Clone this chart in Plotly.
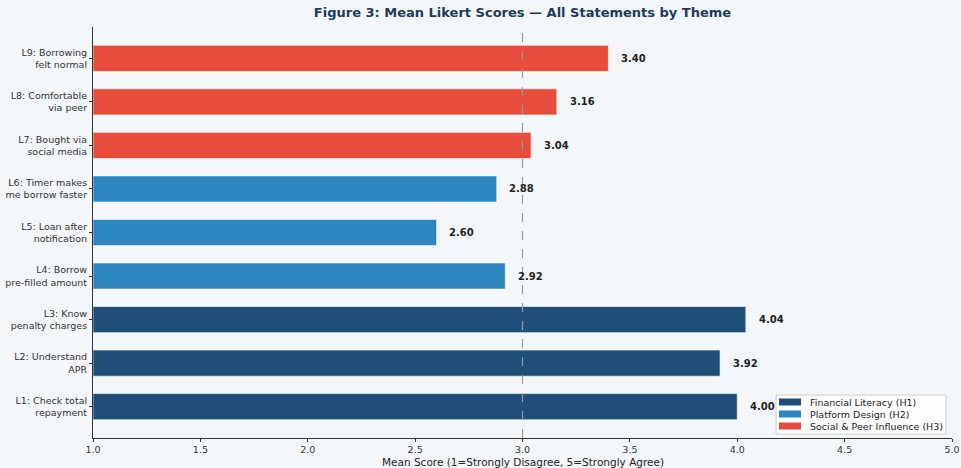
import plotly.graph_objects as go

labels = ["L1: Check total<br>repayment", "L2: Understand<br>APR", "L3: Know<br>penalty charges",
          "L4: Borrow<br>pre-filled amount", "L5: Loan after<br>notification", "L6: Timer makes<br>me borrow faster",
          "L7: Bought via<br>social media", "L8: Comfortable<br>via peer", "L9: Borrowing<br>felt normal"]
scores = [4.00, 3.92, 4.04, 2.92, 2.60, 2.88, 3.04, 3.16, 3.40]
themes = ["Financial Literacy (H1)", "Platform Design (H2)", "Social & Peer Influence (H3)"]
theme_idx = [[0, 1, 2], [3, 4, 5], [6, 7, 8]]
colors = ["#1f4e79", "#2e86c1", "#e74c3c"]
xticks = [1.0, 1.5, 2.0, 2.5, 3.0, 3.5, 4.0, 4.5, 5.0]
midpoint = 3.0

FONT = "DejaVu Sans"
W, H = 961, 468
L, R, T, B = 93, 9, 27, 30
PW, PH = W - L - R, H - T - B


def px(x):
    return (x - L) / PW


def py(y):
    return (H - B - y) / PH


fig = go.Figure()
for name, idx, col in zip(themes, theme_idx, colors):
    fig.add_trace(go.Bar(
        y=idx, x=[scores[i] - 1.0 for i in idx], base=1.0, orientation="h",
        name=name, width=0.6, marker=dict(color=col, line=dict(color="white", width=0.6)),
        hoverinfo="skip", showlegend=False))

for i, s in enumerate(scores):
    fig.add_annotation(x=s + 0.05, y=i, text=f"<b>{s:.2f}</b>", showarrow=False,
                       xanchor="left", yanchor="middle",
                       font=dict(family=FONT, size=10, color="#222222"))

fig.add_shape(type="line", x0=midpoint, x1=midpoint, y0=0, y1=1, xref="x", yref="paper",
              line=dict(color="#9a9a9a", width=1.2, dash="dash"), layer="above")

fig.add_annotation(x=0.5, y=0, xref="paper", yref="paper", yshift=-16,
                   text="Mean Score (1=Strongly Disagree, 5=Strongly Agree)", showarrow=False,
                   xanchor="center", yanchor="top", font=dict(family=FONT, size=10.5, color="#222222"))

# legend (drawn manually for compact matplotlib-like spacing)
fig.add_shape(type="rect", xref="paper", yref="paper", x0=px(776), x1=px(946), y0=py(434), y1=py(395),
              fillcolor="rgba(255,255,255,0.85)", line=dict(color="#cccccc", width=1), layer="above")
row_y = [402, 414, 426]
for name, col, ry in zip(themes, colors, row_y):
    fig.add_shape(type="rect", xref="paper", yref="paper", x0=px(779), x1=px(801),
                  y0=py(ry + 3.5), y1=py(ry - 3.5), fillcolor=col, line=dict(width=0), layer="above")
    fig.add_annotation(x=px(808), y=py(ry), xref="paper", yref="paper", text=name, showarrow=False,
                       xanchor="left", yanchor="middle",
                       font=dict(family=FONT, size=9.5, color="#222222"))

fig.update_layout(
    width=W, height=H,
    margin=dict(l=L, r=R, t=T, b=B),
    paper_bgcolor="#f4f7fa", plot_bgcolor="#f4f7fa",
    title=dict(text="<b>Figure 3: Mean Likert Scores — All Statements by Theme</b>",
               x=(L + W - R) / 2 / W, xanchor="center", y=1 - 12 / H, yanchor="middle",
               font=dict(family=FONT, size=13, color="#1f3a5f")),
    barmode="overlay",
    showlegend=False,
    xaxis=dict(range=[1.0, 5.0], tickvals=xticks, ticktext=[f"{t:.1f}" for t in xticks],
               automargin=False,
               showgrid=False, zeroline=False, showline=True, linecolor="#333333", linewidth=1,
               ticks="outside", ticklen=3, tickcolor="#333333",
               tickfont=dict(family=FONT, size=9.5, color="#333333")),
    yaxis=dict(range=[-0.72, 8.72], tickvals=list(range(9)), ticktext=labels,
               automargin=False,
               showgrid=False, zeroline=False, showline=True, linecolor="#333333", linewidth=1,
               ticks="outside", ticklen=3, tickcolor="#333333",
               tickfont=dict(family=FONT, size=9.5, color="#333333")),
    font=dict(family=FONT),
)

fig.write_html("out.html")
